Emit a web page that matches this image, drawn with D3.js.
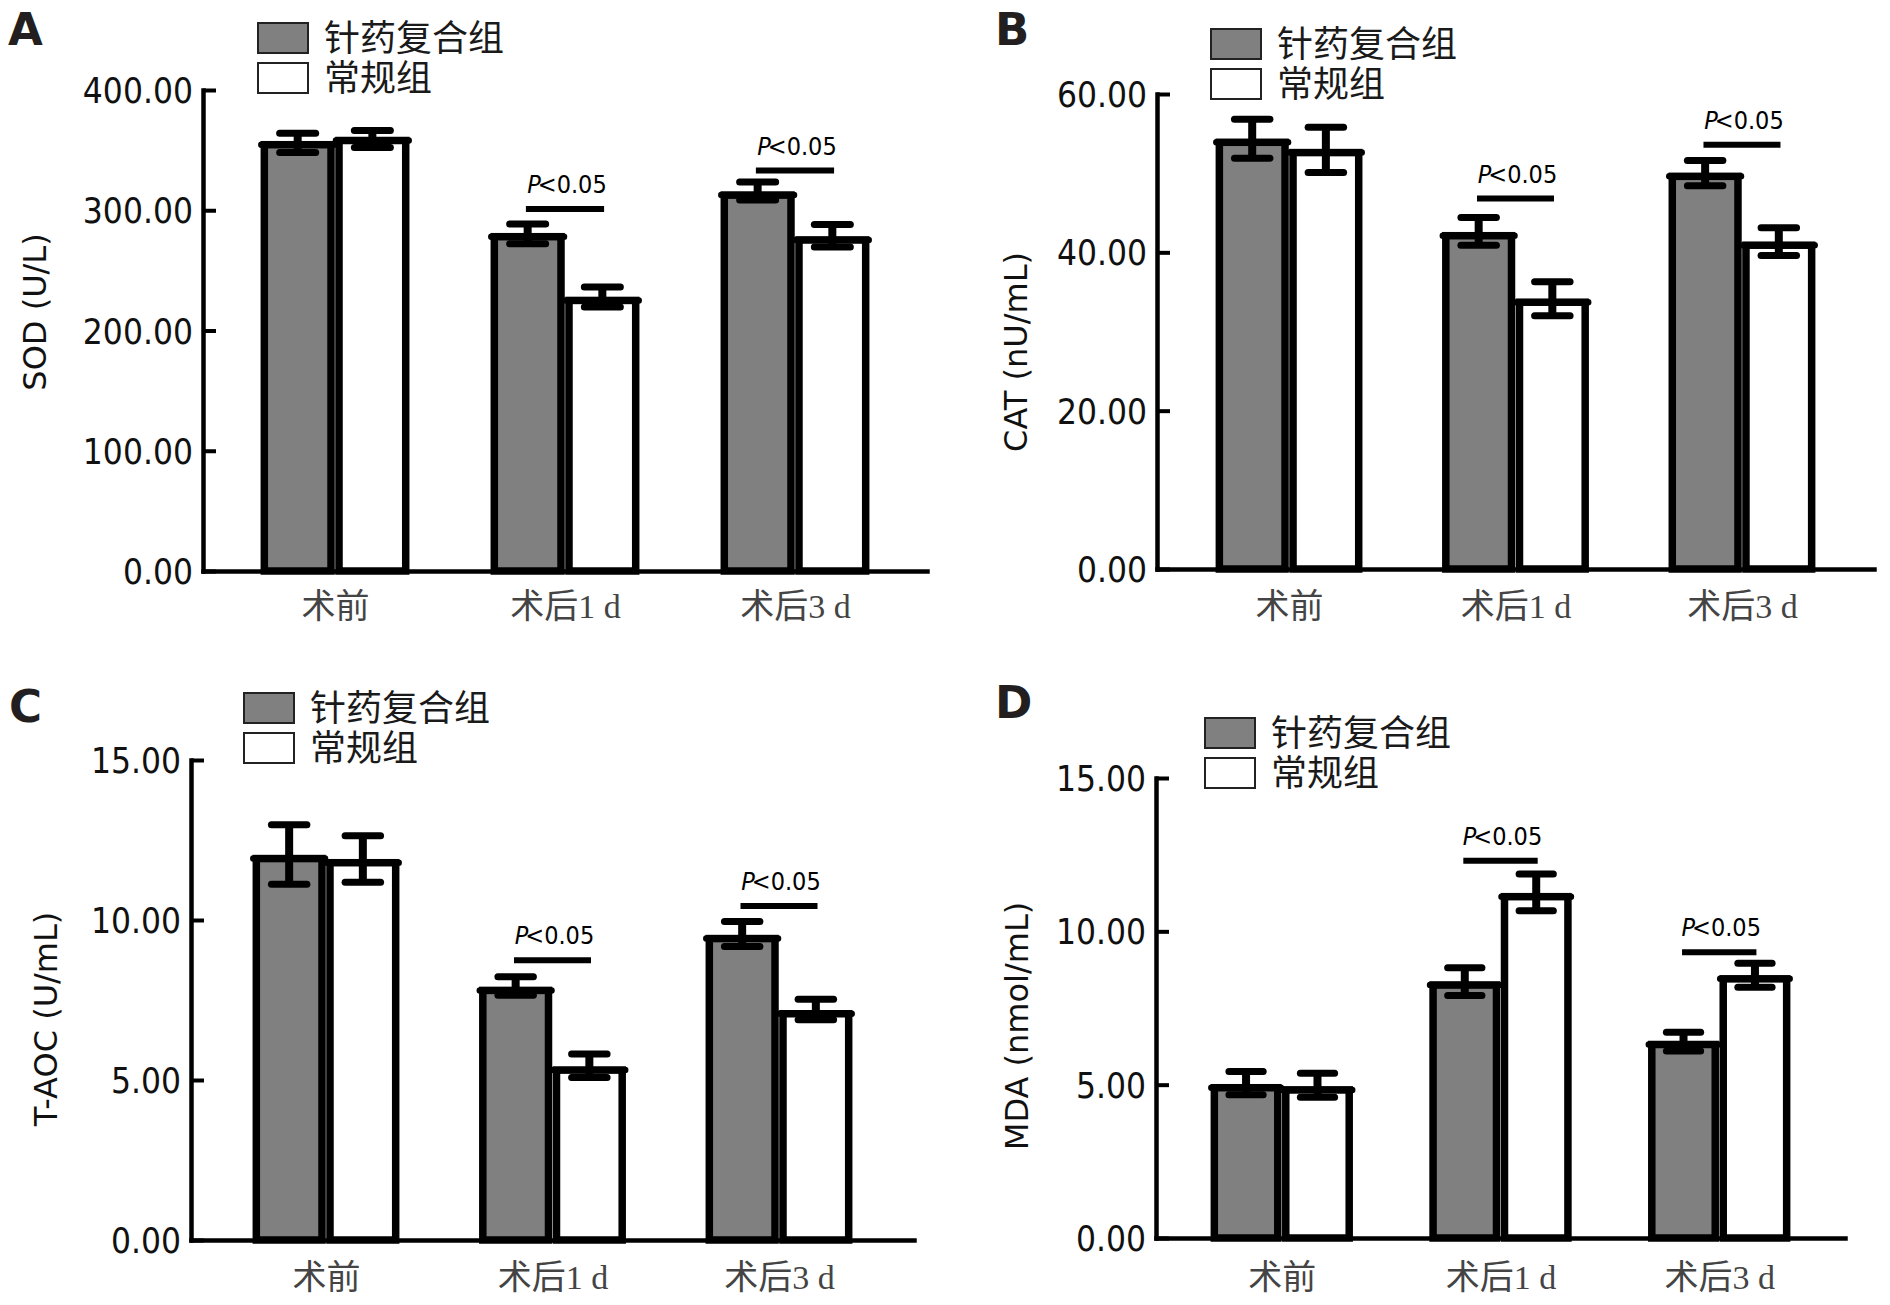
<!DOCTYPE html>
<html><head><meta charset="utf-8">
<script src="https://cdn.jsdelivr.net/npm/d3@7"></script>
<style>
html,body{margin:0;padding:0;background:#fff;}
svg{display:block;}
</style>
</head><body>
<svg id="chart" width="1890" height="1305"></svg>
<script>
// ---------- data ----------
const categories = ["术前", "术后1 d", "术后3 d"];
const seriesNames = ["针药复合组", "常规组"];
const seriesFill = ["#808080", "#ffffff"];

// A: SOD (U/L)
const sodTicks = [0, 100, 200, 300, 400];
const sodAcu = [354.5, 278.0, 312.6];
const sodAcuLo = [348.0, 272.2, 308.5];
const sodAcuHi = [364.0, 288.5, 323.5];
const sodConv = [358.0, 225.0, 275.3];
const sodConvLo = [352.2, 219.6, 269.5];
const sodConvHi = [366.3, 236.2, 288.2];
const sodSig = [null, 301, 333];

// B: CAT (nU/mL)
const catTicks = [0, 20, 40, 60];
const catAcu = [53.9, 42.1, 49.6];
const catAcuLo = [51.9, 40.9, 48.4];
const catAcuHi = [56.8, 44.4, 51.6];
const catConv = [52.6, 33.7, 40.9];
const catConvLo = [50.1, 32.0, 39.6];
const catConvHi = [55.8, 36.3, 43.1];
const catSig = [null, 46.8, 53.6];

// C: T-AOC (U/mL)
const taocTicks = [0, 5, 10, 15];
const taocAcu = [11.92, 7.80, 9.42];
const taocAcuLo = [11.12, 7.65, 9.17];
const taocAcuHi = [12.98, 8.23, 9.95];
const taocConv = [11.79, 5.31, 7.07];
const taocConvLo = [11.18, 5.08, 6.88];
const taocConvHi = [12.63, 5.81, 7.52];
const taocSig = [null, 8.74, 10.44];

// D: MDA (nmol/mL)
const mdaTicks = [0, 5, 10, 15];
const mdaAcu = [4.90, 8.25, 6.31];
const mdaAcuLo = [4.67, 7.91, 6.10];
const mdaAcuHi = [5.43, 8.81, 6.71];
const mdaConv = [4.83, 11.13, 8.45];
const mdaConvLo = [4.59, 10.67, 8.18];
const mdaConvHi = [5.37, 11.87, 8.96];
const mdaSig = [null, 12.3, 9.32];

const sigLabel = "<0.05";

// ---------- panels (layout) ----------
const panels = [
  {letter:"A", title:"SOD (U/L)", ticks:sodTicks,
   series:[{m:sodAcu,lo:sodAcuLo,hi:sodAcuHi},{m:sodConv,lo:sodConvLo,hi:sodConvHi}], sig:sodSig,
   x0:203, x1:927, pad:0.574, y0:571, y1:90, bw:0.29,
   legend:{x:258,y:23}, title_xy:[46,312], letter_xy:[8,45], labelY:618},
  {letter:"B", title:"CAT (nU/mL)", ticks:catTicks,
   series:[{m:catAcu,lo:catAcuLo,hi:catAcuHi},{m:catConv,lo:catConvLo,hi:catConvHi}], sig:catSig,
   x0:1157, x1:1874, pad:0.583, y0:569, y1:94, bw:0.29,
   legend:{x:1211,y:29}, title_xy:[1027,352], letter_xy:[995,45], labelY:618},
  {letter:"C", title:"T-AOC (U/mL)", ticks:taocTicks,
   series:[{m:taocAcu,lo:taocAcuLo,hi:taocAcuHi},{m:taocConv,lo:taocConvLo,hi:taocConvHi}], sig:taocSig,
   x0:191, x1:914, pad:0.596, y0:1240, y1:760, bw:0.29,
   legend:{x:244,y:693}, title_xy:[57,1019], letter_xy:[9,722], labelY:1289},
  {letter:"D", title:"MDA (nmol/mL)", ticks:mdaTicks,
   series:[{m:mdaAcu,lo:mdaAcuLo,hi:mdaAcuHi},{m:mdaConv,lo:mdaConvLo,hi:mdaConvHi}], sig:mdaSig,
   x0:1156, x1:1845, pad:0.575, y0:1238, y1:778, bw:0.29,
   legend:{x:1205,y:718}, title_xy:[1028,1026], letter_xy:[995,718], labelY:1289}
];

const svg = d3.select("#chart");
svg.append("rect").attr("width",1890).attr("height",1305).attr("fill","#fff");
const fmt = d3.format(".2f");
const STROKE = 7.5, GAP = 8;

panels.forEach(p => {
  const g = svg.append("g");
  const y = d3.scaleLinear().domain([0, d3.max(p.ticks)]).range([p.y0, p.y1]);
  const x = d3.scalePoint().domain(categories).range([p.x0, p.x1]).padding(p.pad);
  const step = x.step();
  const w = step * p.bw;
  const inner = d3.scaleBand().domain(seriesNames)
      .range([-(w + GAP/2), w + GAP/2]).paddingInner(GAP/(w+GAP)).paddingOuter(0);

  // bars
  categories.forEach((c, i) => {
    const cx = x(c);
    seriesNames.forEach((s, k) => {
      const bx = cx + inner(s);
      const v = p.series[k].m[i];
      g.append("rect").attr("x", bx).attr("y", y(v))
        .attr("width", inner.bandwidth()).attr("height", p.y0 - y(v))
        .attr("fill", seriesFill[k]).attr("stroke", "#000").attr("stroke-width", STROKE);
      g.append("line").attr("x1", bx - 3).attr("x2", bx + inner.bandwidth() + 3)
        .attr("y1", y(v)).attr("y2", y(v))
        .attr("stroke", "#000").attr("stroke-width", 6.5).attr("stroke-linecap", "round");
    });
    seriesNames.forEach((s, k) => {
      const ex = cx + inner(s) + inner.bandwidth()/2;
      const lo = p.series[k].lo[i], hi = p.series[k].hi[i];
      const ch = w * 0.27;
      g.append("line").attr("x1", ex).attr("x2", ex).attr("y1", y(lo)).attr("y2", y(hi))
        .attr("stroke", "#000").attr("stroke-width", 8);
      [lo, hi].forEach(val => {
        g.append("line").attr("x1", ex - ch).attr("x2", ex + ch)
          .attr("y1", y(val)).attr("y2", y(val))
          .attr("stroke", "#000").attr("stroke-width", 7).attr("stroke-linecap", "round");
      });
    });
    // significance
    if (p.sig[i] != null) {
      const sy = y(p.sig[i]);
      const hw = step * 0.17;
      g.append("line").attr("x1", cx - hw).attr("x2", cx + hw).attr("y1", sy).attr("y2", sy)
        .attr("stroke", "#000").attr("stroke-width", 6);
      const t = g.append("text").attr("x", cx + 2).attr("y", sy - 16)
        .attr("text-anchor", "middle")
        .attr("font-family", "'DejaVu Sans Condensed','DejaVu Sans',sans-serif")
        .attr("font-stretch", "condensed")
        .attr("font-size", 25).attr("fill", "#000");
      t.append("tspan").attr("font-style", "italic").attr("dx", 0).text("P");
      t.append("tspan").attr("dx", -3).text(sigLabel);
    }
  });

  // y axis
  const ya = g.append("g").attr("transform", `translate(${p.x0},0)`)
    .call(d3.axisLeft(y).tickValues(p.ticks).tickFormat(fmt).tickSizeInner(-13).tickSizeOuter(0).tickPadding(10));
  ya.select(".domain").attr("stroke", "#000").attr("stroke-width", 4.5).attr("stroke-linecap", "square");
  ya.selectAll(".tick line").attr("stroke", "#000").attr("stroke-width", 4);
  ya.selectAll(".tick text")
    .attr("font-family", "'DejaVu Sans Condensed','DejaVu Sans',sans-serif")
    .attr("font-stretch", "condensed")
    .attr("font-size", 35).attr("fill", "#111").attr("dy", "0.36em");

  // x axis
  const xa = g.append("g").attr("transform", `translate(0,${p.y0})`)
    .call(d3.axisBottom(x).tickSize(0).tickSizeOuter(0).tickPadding(0));
  xa.select(".domain").attr("stroke", "#000").attr("stroke-width", 4.5).attr("stroke-linecap", "square");
  xa.selectAll(".tick text")
    .attr("y", p.labelY - p.y0).attr("dy", 0)
    .attr("font-family", "'Liberation Serif','Noto Sans CJK SC',serif")
    .attr("font-size", 34).attr("fill", "#444");

  // y title
  g.append("text").attr("transform", `translate(${p.title_xy[0]},${p.title_xy[1]}) rotate(-90)`)
    .attr("text-anchor", "middle")
    .attr("font-family", "'DejaVu Sans',sans-serif").attr("font-size", 32).attr("fill", "#111")
    .text(p.title);

  // panel letter
  g.append("text").attr("x", p.letter_xy[0]).attr("y", p.letter_xy[1])
    .attr("font-family", "'DejaVu Sans',sans-serif").attr("font-weight", "bold")
    .attr("font-size", 45).attr("fill", "#231f20").text(p.letter);

  // legend
  seriesNames.forEach((s, k) => {
    const ly = p.legend.y + k * 40;
    g.append("rect").attr("x", p.legend.x).attr("y", ly).attr("width", 50).attr("height", 30)
      .attr("fill", seriesFill[k]).attr("stroke", "#222").attr("stroke-width", 2);
    g.append("text").attr("x", p.legend.x + 66).attr("y", ly + 15).attr("dy", "0.36em")
      .attr("font-family", "'Noto Sans CJK SC',sans-serif").attr("font-size", 36)
      .attr("fill", "#1a1a1a").text(s);
  });
});
</script>
</body></html>
